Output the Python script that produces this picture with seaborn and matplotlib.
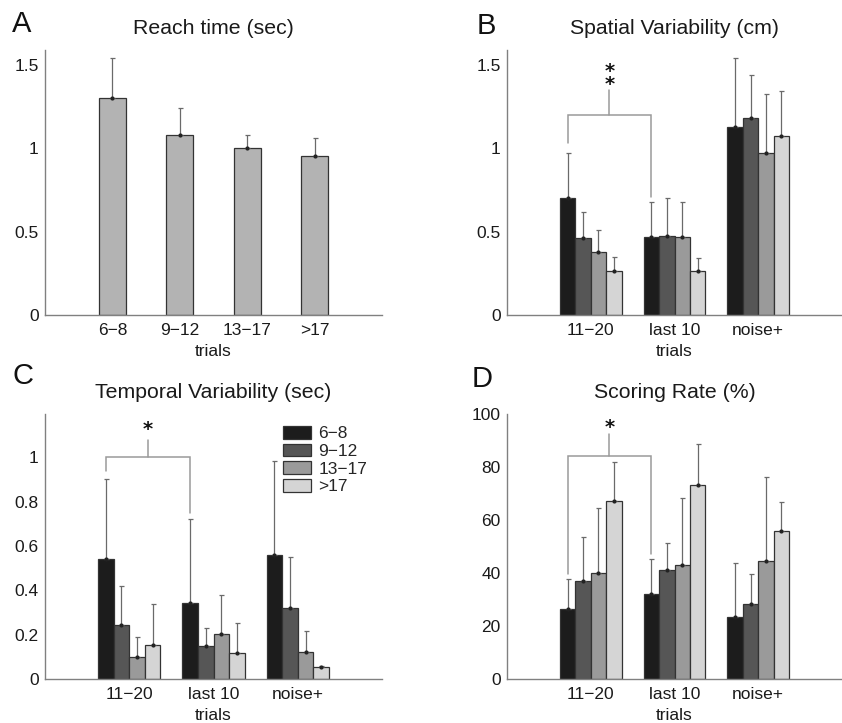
import matplotlib
matplotlib.use("Agg")
import matplotlib.pyplot as plt
import matplotlib.transforms as mtrans
import seaborn as sns
import pandas as pd
import numpy as np

sns.set_theme(style="white")
plt.rcParams['font.family'] = ['Liberation Sans', 'DejaVu Sans']

# ---------------- data ----------------
age_groups = ["6\u22128", "9\u221212", "13\u221217", ">17"]
conditions = ["11\u221220", "last 10", "noise+"]

# Panel A: reach time (sec)
reach_vals = [1.30, 1.08, 1.00, 0.955]
reach_err = [0.24, 0.16, 0.08, 0.11]

# Panel B: spatial variability (cm), per age group across conditions
spatial_6_8 = [0.70, 0.47, 1.128]
spatial_9_12 = [0.46, 0.474, 1.184]
spatial_13_17 = [0.38, 0.468, 0.97]
spatial_gt17 = [0.266, 0.266, 1.074]
spatial_err_6_8 = [0.274, 0.206, 0.416]
spatial_err_9_12 = [0.156, 0.23, 0.258]
spatial_err_13_17 = [0.13, 0.212, 0.356]
spatial_err_gt17 = [0.084, 0.078, 0.268]

# Panel C: temporal variability (sec)
temporal_6_8 = [0.541, 0.343, 0.558]
temporal_9_12 = [0.242, 0.149, 0.32]
temporal_13_17 = [0.098, 0.205, 0.123]
temporal_gt17 = [0.155, 0.116, 0.053]
temporal_err_6_8 = [0.36, 0.377, 0.427]
temporal_err_9_12 = [0.179, 0.08, 0.232]
temporal_err_13_17 = [0.091, 0.175, 0.094]
temporal_err_gt17 = [0.182, 0.137, 0.007]

# Panel D: scoring rate (%)
scoring_6_8 = [26.4, 31.9, 23.4]
scoring_9_12 = [37.1, 41.0, 28.4]
scoring_13_17 = [39.9, 43.2, 44.7]
scoring_gt17 = [67.0, 73.1, 55.9]
scoring_err_6_8 = [11.5, 13.5, 20.3]
scoring_err_9_12 = [16.3, 10.4, 11.4]
scoring_err_13_17 = [24.7, 25.1, 31.6]
scoring_err_gt17 = [15.0, 15.5, 10.9]

# Significance brackets: [left leg bottom, bar height, right leg bottom, stem top]
bracket_B = [1.03, 1.2, 0.71, 1.35]
stars_B = ("*\n*", 1.455)
bracket_C = [0.94, 1.0, 0.75, 1.08]
stars_C = ("*", 1.15)
bracket_D = [39.7, 84.2, 47.2, 92.5]
stars_D = ("*", 97.0)

yticks_AB = [0, 0.5, 1, 1.5]
ylabels_AB = ["0", "0.5", "1", "1.5"]
yticks_C = [0, 0.2, 0.4, 0.6, 0.8, 1.0]
ylabels_C = ["0", "0.2", "0.4", "0.6", "0.8", "1"]
yticks_D = [0, 20, 40, 60, 80, 100]
ylabels_D = ["0", "20", "40", "60", "80", "100"]

titles = ["Reach time (sec)", "Spatial Variability (cm)",
          "Temporal Variability (sec)", "Scoring Rate (%)"]
letters = ["A", "B", "C", "D"]

palette = ["#1c1c1c", "#565656", "#9a9a9a", "#d5d5d5"]
bar_single = "#b3b3b3"
edge = "#333333"
axis_col = "#808080"
err_col = "#6a6a6a"
txt_col = "#1a1a1a"
FS = 12.5

W, H = 842, 723
fig = plt.figure(figsize=(W / 100, H / 100), dpi=100)


def add_ax(l, t, r, b):
    return fig.add_axes([l / W, 1 - b / H, (r - l) / W, (b - t) / H])


axA = add_ax(45, 50, 382, 315)
axB = add_ax(507, 50, 842, 315)
axC = add_ax(45, 414, 382, 679)
axD = add_ax(507, 414, 842, 679)


def style(ax, title, yticks, ylabels, ylim):
    ax.set_ylim(*ylim)
    ax.set_yticks(yticks)
    ax.set_yticklabels(ylabels)
    for s in ["top", "right"]:
        ax.spines[s].set_visible(False)
    for s in ["left", "bottom"]:
        ax.spines[s].set_color(axis_col)
        ax.spines[s].set_linewidth(1.0)
    ax.tick_params(axis="y", direction="in", length=3, color=axis_col,
                   labelsize=FS, labelcolor=txt_col, pad=4.5)
    ax.tick_params(axis="x", length=0, labelsize=FS, labelcolor=txt_col, pad=5.5)
    ax.set_xlabel("trials", fontsize=FS, color=txt_col, labelpad=4.5)
    ax.set_ylabel("")
    ax.set_title(title, fontsize=15.3, color=txt_col, pad=11.5)


def draw_err(ax, container, vals, errs):
    xs = [b.get_x() + b.get_width() / 2 for b in container]
    ax.errorbar(xs, vals, yerr=[np.zeros(len(errs)), errs], fmt="none",
                ecolor=err_col, elinewidth=0.9, capsize=1.8, capthick=0.9,
                zorder=3)
    ax.plot(xs, vals, ls="none", marker="o", ms=2.0, color="#222222", zorder=4)


# ---- Panel A ----
dfA = pd.DataFrame({"trials": age_groups, "value": reach_vals})
sns.barplot(data=dfA, x="trials", y="value", ax=axA, color=bar_single,
            width=0.4, edgecolor=edge, linewidth=0.9, errorbar=None,
            saturation=1)
draw_err(axA, list(axA.containers)[0], reach_vals, reach_err)
axA.set_xlim(-1, 4)
style(axA, titles[0], yticks_AB, ylabels_AB, (0, 1.59))


def grouped(ax, series, errs, title, yticks, ylabels, ylim, bracket, stars,
            legend=False):
    rows = []
    for g, vals in zip(age_groups, series):
        for c, v in zip(conditions, vals):
            rows.append({"cond": c, "age": g, "value": v})
    df = pd.DataFrame(rows)
    sns.barplot(data=df, x="cond", y="value", hue="age", order=conditions,
                hue_order=age_groups, palette=palette, ax=ax, width=0.74,
                edgecolor=edge, linewidth=0.9, errorbar=None, saturation=1,
                legend=False)
    bars = list(ax.containers)
    for cont, vals, e in zip(bars, series, errs):
        draw_err(ax, cont, vals, e)
    ax.set_xlim(-1, 3)
    style(ax, title, yticks, ylabels, ylim)
    # bracket between black bars of first two conditions
    b0 = bars[0]
    xl = b0[0].get_x() + b0[0].get_width() / 2
    xr = b0[1].get_x() + b0[1].get_width() / 2
    xm = (xl + xr) / 2
    lb, hh, rb, top = bracket
    ax.plot([xl, xl, xr, xr], [lb, hh, hh, rb], color="#9a9a9a", lw=1.1,
            zorder=5, solid_joinstyle="miter")
    ax.plot([xm, xm], [hh, top], color="#9a9a9a", lw=1.1, zorder=5)
    star_tr = mtrans.offset_copy(ax.transData, fig=fig, y=-4.0, units="points")
    s_txt, s_y = stars
    ax.text(xm, s_y, s_txt, ha="center", va="center", fontsize=14,
            fontweight="bold", color="#111111", family="DejaVu Sans",
            linespacing=0.62, transform=star_tr)
    if legend:
        handles = [c.patches[0] for c in bars]
        ax.legend(handles, age_groups, loc="upper left",
                  bbox_to_anchor=(0.705, 0.955), frameon=False,
                  fontsize=FS, handlelength=1.65, handleheight=0.75,
                  labelspacing=0.13, handletextpad=0.4, borderaxespad=0,
                  borderpad=0)


grouped(axB, [spatial_6_8, spatial_9_12, spatial_13_17, spatial_gt17],
        [spatial_err_6_8, spatial_err_9_12, spatial_err_13_17, spatial_err_gt17],
        titles[1], yticks_AB, ylabels_AB, (0, 1.59), bracket_B, stars_B)
grouped(axC, [temporal_6_8, temporal_9_12, temporal_13_17, temporal_gt17],
        [temporal_err_6_8, temporal_err_9_12, temporal_err_13_17, temporal_err_gt17],
        titles[2], yticks_C, ylabels_C, (0, 1.195), bracket_C, stars_C,
        legend=True)
grouped(axD, [scoring_6_8, scoring_9_12, scoring_13_17, scoring_gt17],
        [scoring_err_6_8, scoring_err_9_12, scoring_err_13_17, scoring_err_gt17],
        titles[3], yticks_D, ylabels_D, (0, 100), bracket_D, stars_D)

letter_pos = [(12, 24), (477, 26), (12, 376), (472, 379)]
for L, (x, y) in zip(letters, letter_pos):
    fig.text(x / W, 1 - y / H, L, fontsize=21, color="#111111",
             ha="left", va="center")

fig.savefig("out.png", dpi=100)
